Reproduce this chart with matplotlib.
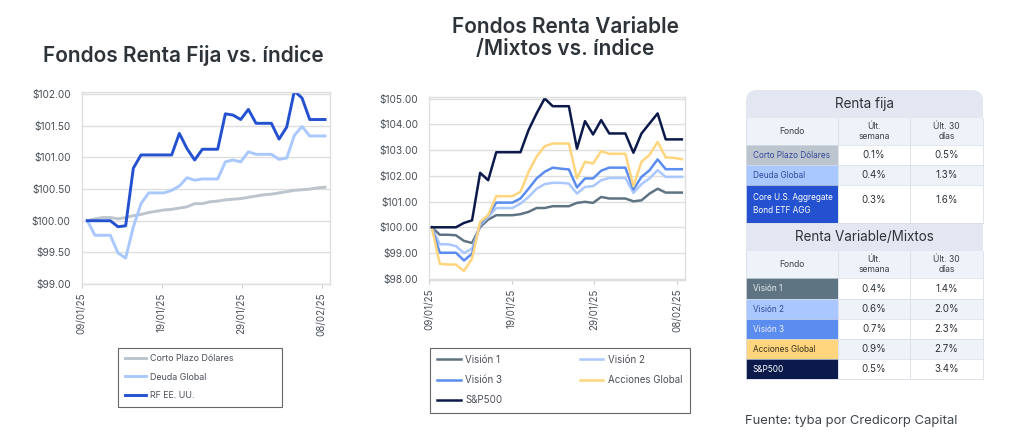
#!/usr/bin/env python
# fondos renta fija / variable vs indice, con tabla de rendimientos

import numpy as np
import matplotlib.pyplot as plt
from matplotlib.patches import Rectangle, FancyBboxPatch

plt.rcParams['font.family'] = ['Inter', 'DejaVu Sans']

# ==============================================================================
# -- data ----------------------------------------------------------------------
# ==============================================================================
date_ticks = ['09/01/25', '19/01/25', '29/01/25', '08/02/25']

corto_plazo = [100.00, 100.03, 100.05, 100.05, 100.03, 100.05, 100.08, 100.10, 100.13, 100.15,
               100.17, 100.18, 100.20, 100.22, 100.27, 100.27, 100.30, 100.31, 100.33, 100.34,
               100.35, 100.37, 100.39, 100.41, 100.42, 100.44, 100.46, 100.48, 100.49, 100.50,
               100.52, 100.53]
deuda_global = [100.00, 99.77, 99.77, 99.77, 99.49, 99.41, 99.90, 100.27, 100.44, 100.44,
                100.44, 100.48, 100.55, 100.68, 100.64, 100.66, 100.66, 100.66, 100.93, 100.96,
                100.93, 101.09, 101.05, 101.05, 101.05, 100.97, 100.99, 101.35, 101.49, 101.34,
                101.34, 101.34]
rf_eeuu = [100.00, 100.00, 100.00, 100.00, 99.905, 99.92, 100.83, 101.04, 101.04, 101.04,
           101.04, 101.04, 101.38, 101.14, 100.96, 101.13, 101.13, 101.13, 101.69, 101.67,
           101.60, 101.76, 101.54, 101.54, 101.54, 101.29, 101.48, 102.05, 101.94, 101.60,
           101.60, 101.60]

vision1 = [100.00, 99.71, 99.71, 99.69, 99.47, 99.39, 100.01, 100.30, 100.47, 100.47,
           100.47, 100.51, 100.60, 100.75, 100.75, 100.82, 100.82, 100.82, 100.95, 100.99,
           100.95, 101.18, 101.12, 101.12, 101.12, 101.01, 101.05, 101.31, 101.50, 101.35,
           101.35, 101.35]
vision2 = [100.00, 99.34, 99.34, 99.27, 99.00, 99.17, 100.08, 100.40, 100.75, 100.75,
           100.75, 100.92, 101.18, 101.50, 101.68, 101.73, 101.73, 101.70, 101.31, 101.57,
           101.60, 101.83, 101.92, 101.92, 101.92, 101.34, 101.68, 101.90, 102.22, 101.96,
           101.96, 101.96]
vision3 = [100.00, 99.01, 99.01, 99.01, 98.71, 98.97, 100.14, 100.47, 100.96, 100.96,
           100.96, 101.12, 101.50, 101.90, 102.16, 102.32, 102.28, 102.25, 101.55, 101.90,
           101.90, 102.20, 102.32, 102.32, 102.32, 101.47, 101.96, 102.22, 102.64, 102.26,
           102.26, 102.26]
acciones_global = [100.00, 98.58, 98.55, 98.55, 98.30, 98.78, 100.21, 100.47, 101.21, 101.21,
                   101.21, 101.38, 102.15, 102.75, 103.15, 103.26, 103.26, 103.26, 101.90, 102.55,
                   102.48, 102.96, 102.86, 102.86, 102.86, 101.60, 102.55, 102.82, 103.32, 102.72,
                   102.70, 102.65]
sp500 = [100.00, 100.00, 100.00, 100.00, 100.17, 100.27, 102.12, 101.83, 102.92, 102.92,
         102.92, 102.92, 103.78, 104.43, 105.01, 104.71, 104.71, 104.71, 103.06, 104.13,
         103.61, 104.17, 103.65, 103.65, 103.65, 102.90, 103.65, 104.04, 104.43, 103.42,
         103.42, 103.42]

# table
rf_names = ['Corto Plazo Dólares', 'Deuda Global', 'Core U.S. Aggregate\nBond ETF AGG']
rf_week = ['0.1%', '0.4%', '0.3%']
rf_month = ['0.5%', '1.3%', '1.6%']
rv_names = ['Visión 1', 'Visión 2', 'Visión 3', 'Acciones Global', 'S&P500']
rv_week = ['0.4%', '0.6%', '0.7%', '0.9%', '0.5%']
rv_month = ['1.4%', '2.0%', '2.3%', '2.7%', '3.4%']

# colours
c_corto, c_deuda, c_rf = '#bcc5cd', '#a9c8ff', '#2451cf'
c_v1, c_v2, c_v3, c_acc, c_sp = '#5f7483', '#aac8ff', '#5b8cef', '#ffd57e', '#0b1a4b'
txt_gray = '#4a5058'
grid_col = '#dedede'

# ==============================================================================
# -- charts --------------------------------------------------------------------
# ==============================================================================
fig = plt.figure(figsize=(10.24, 4.44), dpi=100)


def style_axes(ax, yticks, ylim, xlim, xticks):
    ax.set_ylim(*ylim)
    ax.set_xlim(*xlim)
    ax.set_yticks(yticks)
    ax.set_yticklabels(['$%.2f' % v for v in yticks], fontsize=7.3, color=txt_gray)
    ax.set_xticks(xticks)
    ax.set_xticklabels(date_ticks, rotation=90, fontsize=7, color=txt_gray)
    ax.grid(axis='y', color=grid_col, lw=1)
    ax.set_axisbelow(True)
    for s in ax.spines.values():
        s.set_color(grid_col)
        s.set_linewidth(1)
    ax.tick_params(axis='y', length=0, pad=8)
    ax.tick_params(axis='x', length=3, color='#cfcfcf', pad=3)


def add_legend(ax, handles, anchor, ncol, fsize):
    leg = ax.legend(handles=handles, loc='upper left', bbox_to_anchor=anchor,
                    bbox_transform=fig.transFigure, mode='expand', ncol=ncol, fontsize=fsize,
                    labelspacing=1.05, borderpad=0.75, handlelength=2.4, handletextpad=0.5,
                    fancybox=False, edgecolor='#666666', framealpha=1, labelcolor=txt_gray,
                    borderaxespad=0)
    leg.get_frame().set_linewidth(0.8)


# left chart
x = np.arange(len(rf_eeuu))
ax1 = fig.add_axes([0.0798, 0.3604, 0.2425, 0.4331])
l1, = ax1.plot(x, corto_plazo, color=c_corto, lw=2.1, label='Corto Plazo Dólares')
l2, = ax1.plot(x, deuda_global, color=c_deuda, lw=2.1, label='Deuda Global')
l3, = ax1.plot(x, rf_eeuu, color=c_rf, lw=2.1, label='RF EE. UU.')
style_axes(ax1, [99.0, 99.5, 100.0, 100.5, 101.0, 101.5, 102.0], (99.0, 102.04),
           (-0.73, 31.65), [-0.73, 9.7, 20.13, 30.56])
fig.text(0.1795, 0.875, 'Fondos Renta Fija vs. índice', ha='center', va='center',
         fontsize=15, fontweight='semibold', color='#2d3339')
add_legend(ax1, [l1, l2, l3], (118 / 1024, 1 - 352 / 444, 164 / 1024, 0.01), 1, 6.4)

# middle chart
x = np.arange(len(sp500))
ax2 = fig.add_axes([0.419, 0.3694, 0.25, 0.4128])
m1, = ax2.plot(x, vision1, color=c_v1, lw=1.8, label='Visión 1')
m2, = ax2.plot(x, vision2, color=c_v2, lw=1.8, label='Visión 2')
m3, = ax2.plot(x, vision3, color=c_v3, lw=1.8, label='Visión 3')
m4, = ax2.plot(x, acciones_global, color=c_acc, lw=1.8, label='Acciones Global')
m5, = ax2.plot(x, sp500, color=c_sp, lw=1.8, label='S&P500')
style_axes(ax2, [98, 99, 100, 101, 102, 103, 104, 105], (97.95, 105.08),
           (-0.33, 31.4), [-0.33, 9.9, 20.15, 30.4])
fig.text(0.552, 0.914, 'Fondos Renta Variable\n/Mixtos vs. índice', ha='center', va='center',
         fontsize=15, fontweight='semibold', color='#2d3339', linespacing=1.1)
# row-wise order like the original: (1, 2), (3, acciones), (sp500)
add_legend(ax2, [m1, m3, m5, m2, m4], (430 / 1024, 1 - 352 / 444, 260 / 1024, 0.01), 2, 7)

# ==============================================================================
# -- table (pixel coords) ------------------------------------------------------
# ==============================================================================
axt = fig.add_axes([0, 0, 1, 1])
axt.set_xlim(0, 1024)
axt.set_ylim(444, 0)
axt.axis('off')

lav = '#e3e7f1'
light = '#eef2f9'
line_c = '#d9dee7'
cols = [746, 838, 910, 983]

axt.add_patch(FancyBboxPatch((746, 90), 237, 289, boxstyle='round,pad=0,rounding_size=11',
                             fc=lav, ec='none'))


def section(y, title, names, week, month, colors, fgs, heights):
    axt.text((cols[0] + cols[3]) / 2, y + 14, title, ha='center', va='center',
             fontsize=9.7, color='#2d3339')
    y += 28
    # column header
    axt.add_patch(Rectangle((cols[0], y), cols[3] - cols[0], 27, fc=light, ec='none'))
    axt.text((cols[0] + cols[1]) / 2, y + 13.5, 'Fondo', ha='center', va='center',
             fontsize=6.2, color='#3a3f45')
    axt.text((cols[1] + cols[2]) / 2, y + 13.5, 'Últ.\nsemana', ha='center', va='center',
             fontsize=6.2, color='#3a3f45', linespacing=1.2)
    axt.text((cols[2] + cols[3]) / 2, y + 13.5, 'Últ. 30\ndías', ha='center', va='center',
             fontsize=6.2, color='#3a3f45', linespacing=1.2)
    y0 = y
    y += 27
    for i in range(len(names)):
        h = heights[i]
        bg = 'white' if i % 2 == 0 else light
        axt.add_patch(Rectangle((cols[1], y), cols[3] - cols[1], h, fc=bg, ec='none'))
        axt.add_patch(Rectangle((cols[0], y), cols[1] - cols[0], h, fc=colors[i], ec='none'))
        axt.text(cols[0] + 7, y + h / 2, names[i], ha='left', va='center', fontsize=5.9,
                 color=fgs[i], linespacing=1.5)
        ty = y + h / 2 if h < 30 else y + h / 2 - 4
        axt.text((cols[1] + cols[2]) / 2, ty, week[i], ha='center', va='center',
                 fontsize=7, color='#2d3339')
        axt.text((cols[2] + cols[3]) / 2, ty, month[i], ha='center', va='center',
                 fontsize=7, color='#2d3339')
        axt.plot([cols[0], cols[3]], [y, y], color=line_c, lw=0.5)
        y += h
    for cx in cols:
        axt.plot([cx, cx], [y0, y], color=line_c, lw=0.6)
    axt.plot([cols[0], cols[3]], [y, y], color=line_c, lw=0.6)
    return y


y_end = section(90, 'Renta fija', rf_names, rf_week, rf_month,
                [c_corto, c_deuda, c_rf], ['#34489a', '#34489a', 'white'], [20, 20, 38])
y_end = section(y_end, 'Renta Variable/Mixtos', rv_names, rv_week, rv_month,
                [c_v1, c_v2, c_v3, c_acc, c_sp],
                ['#e8edf2', '#34489a', '#eef3ff', '#3a3320', 'white'], [21, 20, 20, 20, 20])

fig.text(745 / 1024, 1 - 421 / 444, 'Fuente: tyba por Credicorp Capital', ha='left',
         va='center', fontsize=9.4, color='#3f454c')

fig.savefig('out.png', dpi=100, facecolor='white')
